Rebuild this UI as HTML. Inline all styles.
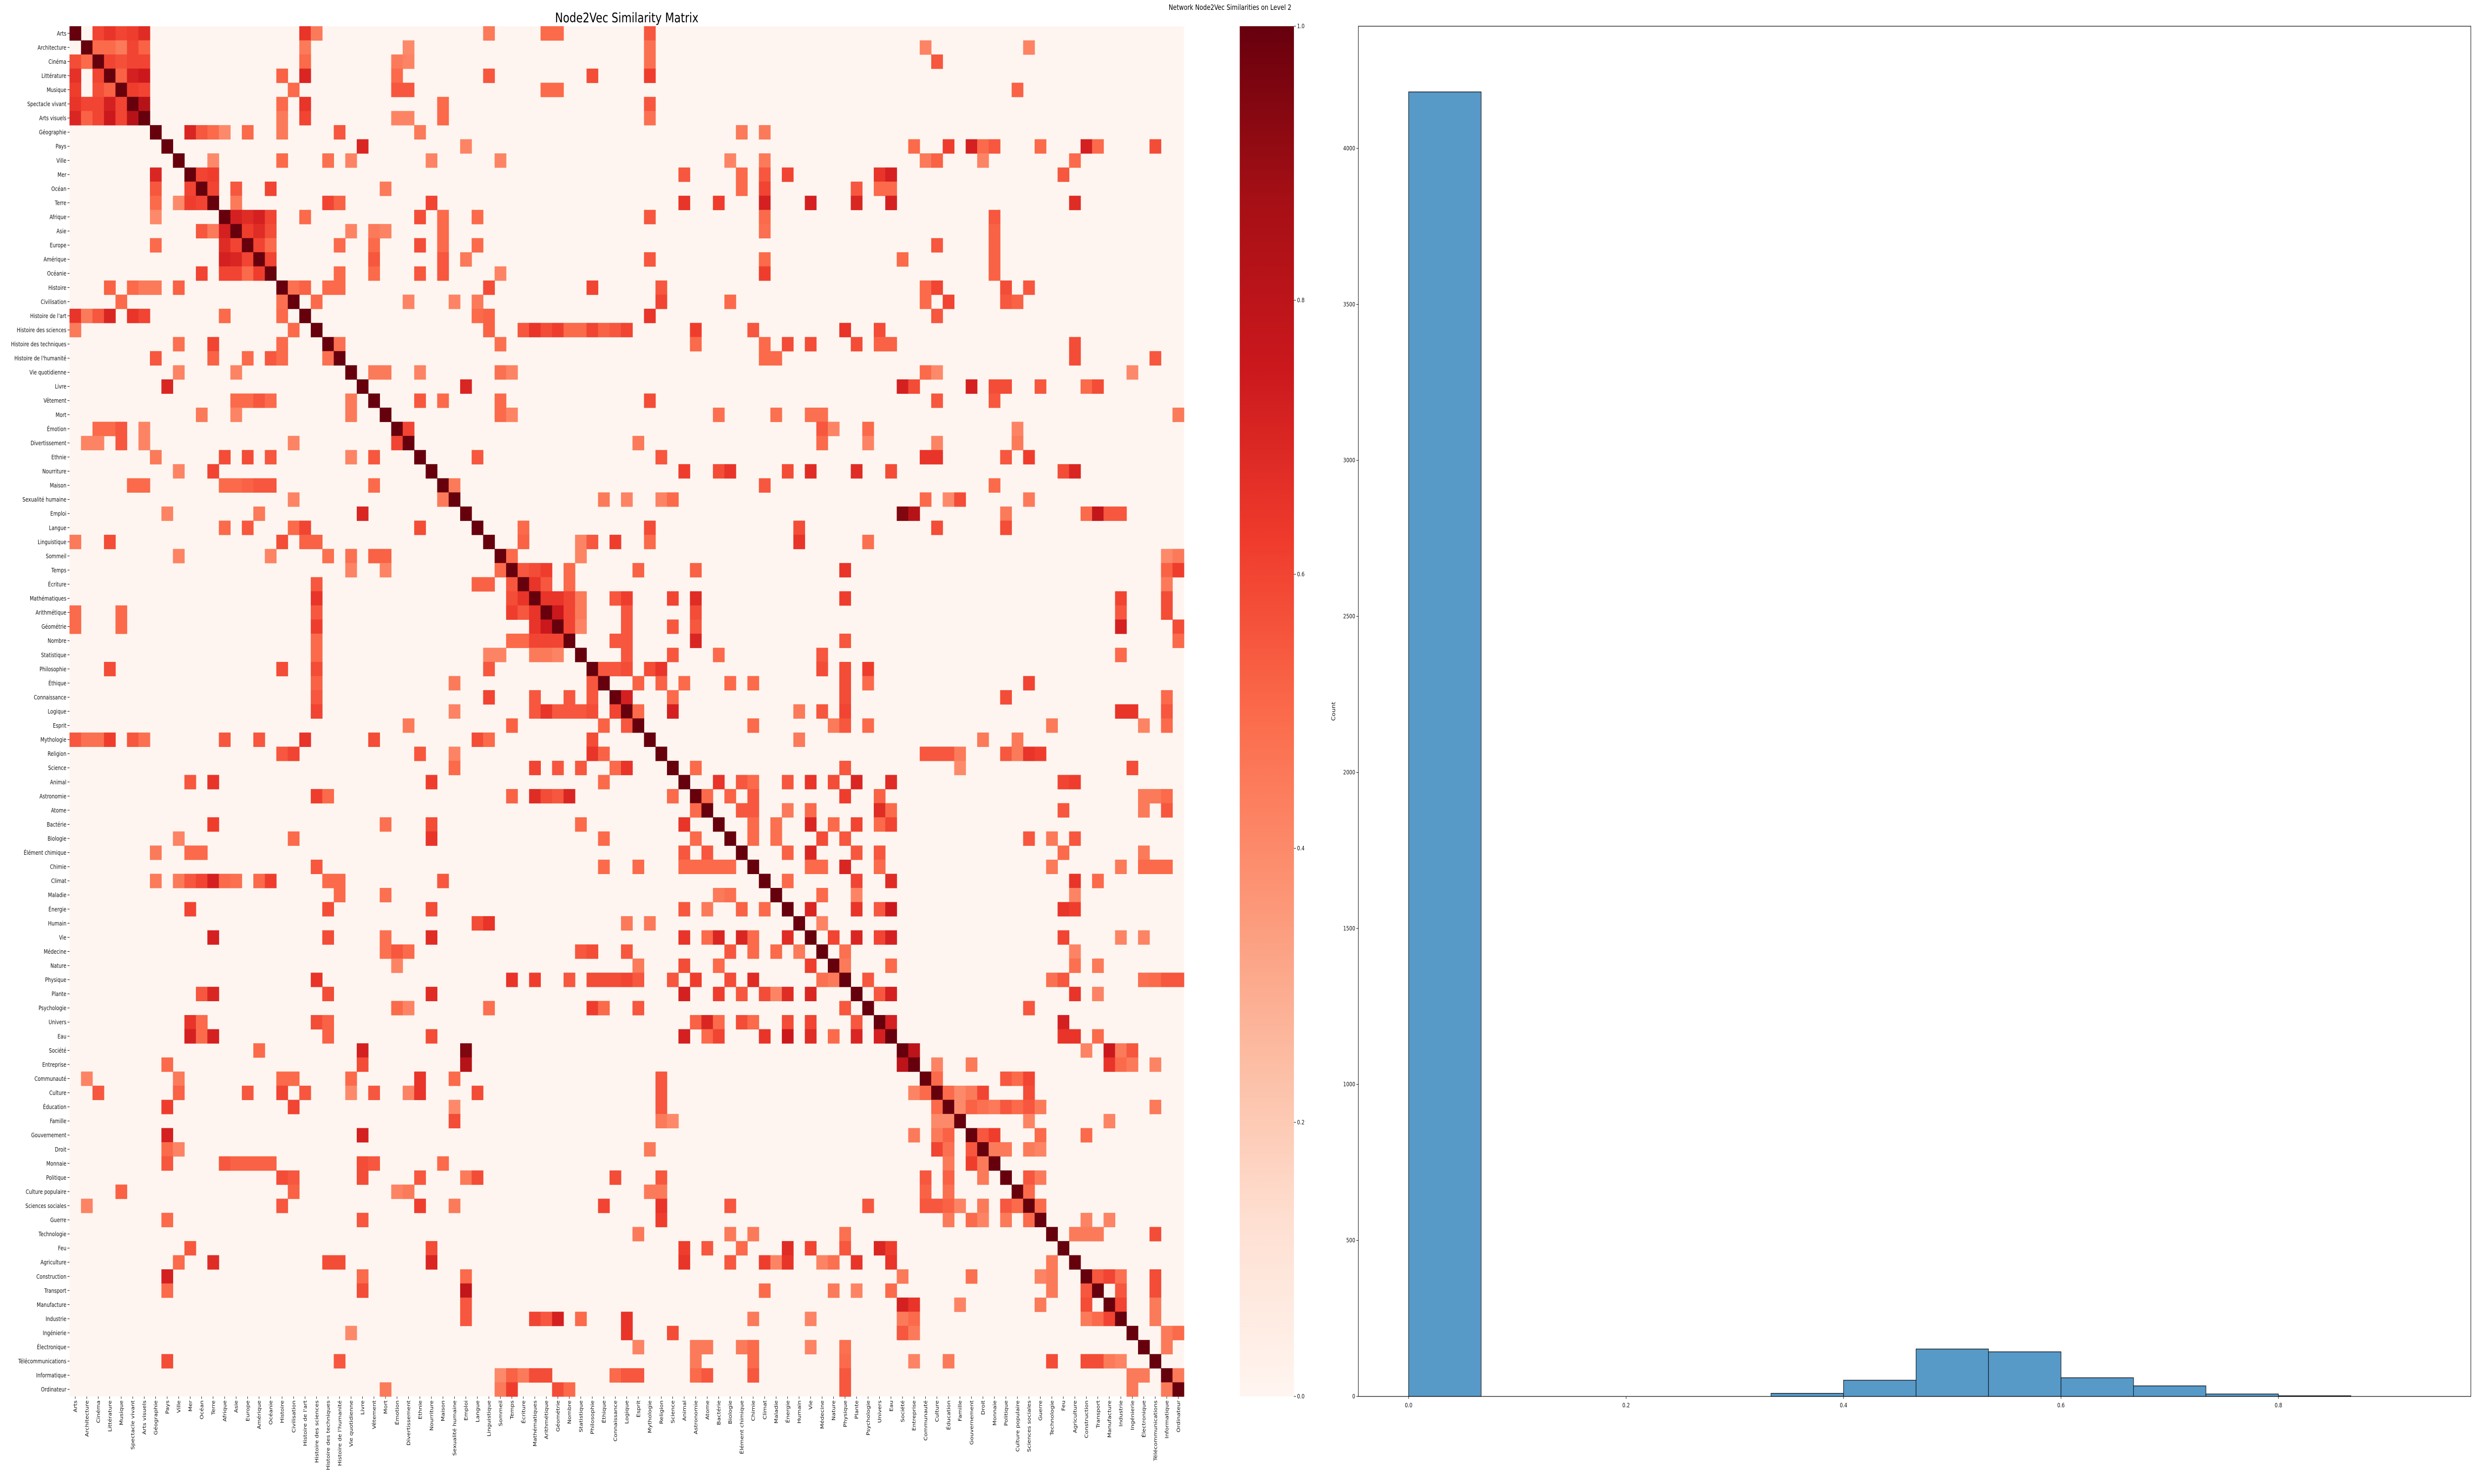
<!DOCTYPE html>
<html><head><meta charset="utf-8">
<style>
html,body{margin:0;padding:0;background:#fff;overflow:hidden;width:100%;height:100%;}
svg{display:block;width:100vw;height:100vh;font-family:"DejaVu Sans","Liberation Sans",sans-serif;}
</style></head>
<body>
<svg id="fig" xmlns="http://www.w3.org/2000/svg" viewBox="0 0 6300 3000" preserveAspectRatio="none">
<defs>
<linearGradient id="redsGrad" x1="0" y1="1" x2="0" y2="0">
<stop offset="0" stop-color="#fff5f0"/><stop offset="0.125" stop-color="#fee0d2"/><stop offset="0.25" stop-color="#fcbba1"/><stop offset="0.375" stop-color="#fc9272"/><stop offset="0.5" stop-color="#fb6a4a"/><stop offset="0.625" stop-color="#ef3b2c"/><stop offset="0.75" stop-color="#cb181d"/><stop offset="0.875" stop-color="#a50f15"/><stop offset="1" stop-color="#67000d"/>
</linearGradient>
</defs>
<rect x="0" y="0" width="6300" height="3000" fill="#fff"/>
<g id="heat"></g>
<text x="1596" y="45" font-size="27" text-anchor="middle">Node2Vec Similarity Matrix</text>
<g id="cbar"></g>
<g id="hist"></g>
<text x="2976" y="20" font-size="15">Network Node2Vec Similarities on Level 2</text>
</svg>
<script>
const labels = ["Arts","Architecture","Cinéma","Littérature","Musique","Spectacle vivant","Arts visuels","Géographie","Pays","Ville","Mer","Océan","Terre","Afrique","Asie","Europe","Amérique","Océanie","Histoire","Civilisation","Histoire de l'art","Histoire des sciences","Histoire des techniques","Histoire de l'humanité","Vie quotidienne","Livre","Vêtement","Mort","Émotion","Divertissement","Ethnie","Nourriture","Maison","Sexualité humaine","Emploi","Langue","Linguistique","Sommeil","Temps","Écriture","Mathématiques","Arithmétique","Géométrie","Nombre","Statistique","Philosophie","Éthique","Connaissance","Logique","Esprit","Mythologie","Religion","Science","Animal","Astronomie","Atome","Bactérie","Biologie","Élément chimique","Chimie","Climat","Maladie","Énergie","Humain","Vie","Médecine","Nature","Physique","Plante","Psychologie","Univers","Eau","Société","Entreprise","Communauté","Culture","Éducation","Famille","Gouvernement","Droit","Monnaie","Politique","Culture populaire","Sciences sociales","Guerre","Technologie","Feu","Agriculture","Construction","Transport","Manufacture","Industrie","Ingénierie","Électronique","Télécommunications","Informatique","Ordinateur"];
// [row, col, similarity]
const links = [
[0,2,.6],[0,3,.65],[0,4,.6],[0,5,.62],[0,6,.68],[0,20,.65],[0,21,.45],[0,41,.5],[0,42,.5],[0,50,.55],
[1,2,.5],[1,3,.5],[1,4,.45],[1,5,.6],[1,6,.52],[1,20,.45],[1,29,.4],[1,50,.48],[1,74,.42],[1,83,.42],
[2,0,.58],[2,1,.5],[2,3,.6],[2,4,.57],[2,5,.6],[2,6,.6],[2,20,.5],[2,28,.45],[2,50,.48],[2,75,.55],
[3,0,.66],[3,1,0],[3,2,.6],[3,4,.52],[3,5,.72],[3,6,.75],[3,18,.52],[3,20,.7],[3,36,.55],[3,45,.58],[3,50,.62],
[4,0,.62],[4,1,0],[4,2,.57],[4,3,.52],[4,5,.62],[4,6,.6],[4,28,.55],[4,29,.55],[4,41,.5],[4,42,.5],[4,82,.52],
[5,0,.65],[5,1,.6],[5,2,.6],[5,3,.72],[5,4,.6],[5,6,.82],[5,18,.5],[5,20,.65],[5,32,.5],[5,50,.55],
[6,0,.7],[6,1,.52],[6,2,.6],[6,3,.75],[6,4,.6],[6,5,.82],[6,18,.45],[6,20,.6],[6,32,.5],[6,50,.48],
[7,10,.7],[7,11,.55],[7,12,.5],[7,13,.4],[7,15,.5],[7,18,.45],[7,23,.55],[7,30,.45],[7,58,.45],[7,60,.45],
[8,25,.7],[8,73,.5],[8,76,.62],[8,78,.72],[8,79,.5],[8,80,.55],[8,84,.5],[8,88,.72],[8,89,.5],[8,94,.58],
[9,12,.4],[9,18,.5],[9,22,.48],[9,31,.42],[9,57,.42],[9,60,.45],[9,74,.45],[9,75,.52],[9,79,.42],[9,87,.5],
[10,7,.7],[10,11,.6],[10,12,.62],[10,53,.55],[10,58,.5],[10,60,.55],[10,62,.6],[10,70,.65],[10,71,.72],[10,86,.55],
[11,7,.55],[11,10,.6],[11,12,.6],[11,14,.55],[11,17,.6],[11,58,.5],[11,60,.6],[11,68,.55],[11,70,.5],[11,71,.5],
[12,10,.62],[12,11,.6],[12,31,.6],[12,53,.65],[12,56,.62],[12,60,.72],[12,64,.72],[12,68,.7],[12,71,.72],[12,87,.68],
[13,14,.72],[13,15,.68],[13,16,.72],[13,17,.6],[13,20,.5],[13,30,.58],[13,32,.5],[13,50,.55],[13,60,.5],[13,80,.55],
[14,11,.55],[14,12,.45],[14,13,.72],[14,15,.62],[14,16,.68],[14,17,.58],[14,26,.45],[14,32,.5],[14,60,.48],[14,80,.52],
[15,7,.5],[15,13,.68],[15,14,.6],[15,16,.6],[15,17,.5],[15,30,.58],[15,32,.5],[15,35,.5],[15,75,.55],[15,80,.52],
[16,13,.72],[16,14,.7],[16,15,.6],[16,17,.6],[16,26,.55],[16,32,.55],[16,50,.55],[16,60,.5],[16,72,.5],[16,80,.52],
[17,11,.6],[17,13,.6],[17,14,.6],[17,15,.5],[17,16,.62],[17,23,.5],[17,30,.55],[17,32,.55],[17,60,.62],[17,80,.52],
[18,3,.52],[18,9,.52],[18,20,.52],[18,22,.5],[18,45,.6],[18,51,.55],[18,74,.5],[18,75,.6],[18,81,.58],[18,83,.55],
[19,4,.5],[19,18,.48],[19,21,.5],[19,35,.45],[19,51,.6],[19,57,.5],[19,74,.5],[19,76,.6],[19,81,.55],[19,82,.52],
[20,0,.65],[20,2,.55],[20,3,.7],[20,5,.65],[20,6,.6],[20,13,.5],[20,18,.5],[20,35,.5],[20,50,.65],[20,75,.55],
[21,39,.55],[21,40,.65],[21,41,.58],[21,42,.62],[21,45,.6],[21,48,.6],[21,54,.62],[21,59,.55],[21,67,.65],[21,70,.58],
[22,12,.6],[22,18,.5],[22,54,.5],[22,60,.5],[22,62,.58],[22,64,.58],[22,68,.58],[22,70,.52],[22,71,.52],[22,87,.58],
[23,7,.55],[23,12,.52],[23,15,.5],[23,17,.55],[23,18,.5],[23,22,.48],[23,60,.5],[23,61,.5],[23,87,.58],[23,94,.55],
[24,9,.42],[24,14,.42],[24,26,.45],[24,27,.45],[24,30,.42],[24,37,.48],[24,38,.42],[24,74,.5],[24,75,.4],[24,92,.4],
[25,8,.7],[25,34,.7],[25,72,.72],[25,73,.58],[25,78,.72],[25,80,.58],[25,81,.58],[25,84,.55],[25,88,.5],[25,89,.58],
[26,14,.5],[26,15,.5],[26,16,.55],[26,17,.5],[26,30,.55],[26,32,.5],[26,37,.5],[26,50,.58],[26,75,.55],[26,80,.55],
[27,11,.45],[27,14,.42],[27,24,.45],[27,37,.5],[27,38,.42],[27,56,.48],[27,61,.48],[27,64,.48],[27,65,.48],[27,96,.45],
[28,2,.5],[28,3,.5],[28,4,.55],[28,6,.42],[28,29,.6],[28,65,.55],[28,66,.42],[28,69,.5],[28,82,.42],
[29,1,.42],[29,2,.42],[29,4,.55],[29,6,.42],[29,19,.42],[29,28,.6],[29,49,.45],[29,65,.5],[29,69,.42],[29,75,.42],[29,82,.45],
[30,13,.58],[30,15,.58],[30,17,.55],[30,26,.55],[30,35,.55],[30,51,.55],[30,74,.65],[30,75,.65],[30,81,.55],[30,83,.62],
[31,12,.6],[31,53,.62],[31,56,.58],[31,57,.65],[31,62,.58],[31,64,.68],[31,68,.68],[31,71,.58],[31,86,.58],[31,87,.7],
[32,5,.5],[32,6,.5],[32,13,.5],[32,14,.5],[32,15,.52],[32,16,.55],[32,17,.55],[32,26,.5],[32,60,.55],[32,80,.5],
[33,19,.42],[33,32,.45],[33,46,.45],[33,48,.42],[33,51,.42],[33,52,.5],[33,74,.5],[33,76,.4],[33,77,.58],[33,83,.45],
[34,8,.42],[34,16,.45],[34,25,.7],[34,72,.95],[34,73,.82],[34,81,.45],[34,88,.5],[34,89,.78],[34,90,.55],[34,91,.55],
[35,13,.5],[35,15,.55],[35,19,.5],[35,20,.6],[35,30,.58],[35,39,.5],[35,50,.58],[35,63,.58],[35,75,.58],[35,81,.58],
[36,0,.45],[36,3,.58],[36,18,.58],[36,20,.52],[36,21,.52],[36,45,.55],[36,47,.62],[36,50,.5],[36,63,.65],[36,69,.48],
[37,9,.42],[37,17,.42],[37,22,.48],[37,24,.48],[37,26,.52],[37,27,.52],[37,44,.42],[37,95,.4],[37,96,.45],
[38,37,.5],[38,39,.55],[38,40,.58],[38,41,.62],[38,43,.5],[38,49,.52],[38,54,.52],[38,67,.65],[38,95,.52],[38,96,.62],
[39,21,.55],[39,35,.52],[39,36,.52],[39,38,.55],[39,40,.65],[39,41,.55],[39,43,.5],[39,95,.45],
[40,21,.65],[40,38,.58],[40,39,.65],[40,41,.65],[40,42,.65],[40,43,.6],[40,48,.62],[40,52,.6],[40,54,.68],[40,67,.62],[40,91,.6],[40,95,.58],
[41,21,.55],[41,39,.55],[41,40,.65],[41,42,.75],[41,43,.6],[41,48,.55],[41,54,.58],[41,91,.55],[41,95,.58],
[42,4,.5],[42,21,.62],[42,40,.65],[42,41,.75],[42,43,.6],[42,48,.55],[42,52,.55],[42,54,.55],[42,91,.72],[42,96,.58],
[43,21,.5],[43,38,.5],[43,40,.6],[43,41,.6],[43,42,.6],[43,47,.55],[43,48,.55],[43,54,.7],[43,67,.55],[43,96,.5],
[44,21,.5],[44,36,.42],[44,40,.45],[44,41,.45],[44,42,.42],[44,48,.55],[44,52,.55],[44,56,.5],[44,65,.55],[44,91,.5],
[45,3,.58],[45,18,.58],[45,21,.58],[45,48,.58],[45,50,.58],[45,51,.65],[45,65,.58],[45,67,.58],[45,69,.62],
[46,21,.52],[46,45,.55],[46,49,.52],[46,51,.52],[46,53,.5],[46,57,.5],[46,59,.5],[46,67,.58],[46,69,.5],[46,83,.6],
[47,21,.55],[47,36,.6],[47,40,.55],[47,43,.55],[47,45,.55],[47,48,.72],[47,52,.5],[47,67,.58],[47,81,.58],[47,95,.5],
[48,40,.55],[48,41,.65],[48,42,.55],[48,47,.6],[48,49,.5],[48,52,.72],[48,91,.65],
[49,48,.55],[49,59,.5],[49,66,.45],[49,67,.55],[49,69,.5],[49,95,.5],
[51,74,.55],[51,76,.55],[51,81,.55],[51,83,.65],[51,84,.62],
[52,48,.65],[52,54,.5],[52,67,.55],[52,92,.58],
[53,56,.65],[53,62,.55],[53,64,.65],[53,66,.58],[53,68,.7],[53,71,.68],[53,86,.6],[53,87,.62],
[54,57,.52],[54,59,.55],[54,67,.62],[54,70,.52],
[55,54,.5],[55,58,.55],[55,59,.55],[55,62,.45],[55,64,.5],[55,70,.68],[55,71,.5],[55,86,.55],[55,95,.55],
[56,53,.65],[56,59,.5],[56,61,.48],[56,64,.7],[56,68,.6],[56,70,.5],[56,71,.6],
[57,54,.5],[57,59,.5],[57,61,.48],[57,65,.58],[57,67,.55],[57,83,.55],[57,87,.55],
[58,53,.55],[58,55,.55],[58,62,.52],[58,64,.7],[58,68,.55],[58,70,.55],[58,86,.5],
[59,53,.5],[59,54,.5],[59,55,.5],[59,64,.5],[59,67,.7],[59,70,.5],[59,95,.5],
[60,62,.5],[60,68,.6],[60,71,.68],[60,87,.65],
[61,56,.45],[61,57,.48],[61,65,.5],[61,68,.42],[61,87,.42],
[62,53,.55],[62,64,.7],[62,68,.65],[62,70,.55],[62,71,.75],[62,86,.65],[62,87,.62],
[63,48,.45],[63,50,.45],[63,65,.42],
[64,53,.65],[64,56,.7],[64,58,.7],[64,62,.68],[64,66,.6],[64,68,.7],[64,70,.6],[64,71,.72],
[65,48,.55],[65,57,.55],[65,59,.5],[65,61,.5],[65,63,.45],[65,67,.48],[65,87,.42],
[66,53,.58],[66,56,.5],[66,64,.62],[66,67,.45],[66,71,.5],[66,87,.48],
[67,48,.6],[67,54,.62],[67,57,.58],[67,59,.68],[67,69,.55],
[68,53,.72],[68,56,.62],[68,60,.58],[68,62,.68],[68,64,.7],[68,71,.72],[68,87,.65],
[69,49,.55],[69,67,.55],[69,83,.55],
[70,55,.7],[70,58,.58],[70,62,.58],[70,64,.6],[70,68,.55],[70,71,.72],[70,86,.72],
[71,53,.72],[71,60,.65],[71,62,.75],[71,64,.68],[71,68,.7],[71,70,.72],[71,86,.65],[71,87,.65],
[72,73,.8],[72,88,.42],[72,90,.75],[72,91,.45],[72,92,.55],
[73,72,.8],[73,75,.42],[73,78,.45],[73,90,.65],[73,91,.5],[73,92,.45],[73,94,.42],
[74,51,.55],[74,75,.5],[74,81,.55],[74,82,.5],[74,83,.6],
[75,51,.55],[75,79,.6],[75,83,.58],
[76,51,.55],[76,75,.5],[76,78,.52],[76,80,.45],[76,81,.55],[76,82,.5],[76,83,.55],
[77,51,.45],[77,52,.4],[77,75,.4],[77,76,.4],[77,83,.42],[77,90,.42],
[78,73,.45],[78,75,.45],[78,76,.52],[78,79,.55],[78,80,.62],[78,84,.5],[78,88,.5],
[79,50,.45],[79,75,.6],[79,76,.48],[79,78,.55],[79,80,.45],[79,81,.45],[79,83,.45],
[80,78,.62],
[81,51,.55],[81,74,.55],[81,76,.52],[81,83,.55],
[82,50,.45],[82,51,.45],[82,74,.52],[82,76,.48],[82,83,.5],
[83,51,.65],[83,57,.55],[83,69,.55],[83,74,.55],[83,75,.55],[83,76,.52],[83,81,.55],
[84,51,.62],[84,76,.45],[84,78,.5],[84,79,.42],[84,81,.45],[84,83,.5],[84,88,.42],[84,90,.42],
[85,49,.45],[85,57,.45],[85,59,.45],[85,67,.48],[85,87,.45],[85,88,.45],[85,94,.58],
[86,53,.62],[86,55,.55],[86,62,.68],[86,64,.6],[86,67,.55],[86,70,.7],[86,71,.62],
[87,53,.65],[87,57,.55],[87,60,.62],[87,62,.65],[87,68,.65],[87,71,.65],
[88,72,.45],[88,78,.48],[88,85,.45],[88,89,.55],[88,90,.6],[88,91,.48],[88,94,.58],
[89,60,.5],[89,66,.45],[89,68,.42],[89,71,.5],[89,85,.45],[89,88,.55],[89,91,.55],[89,94,.58],
[90,72,.72],[90,73,.65],[90,84,.45],[90,88,.58],[90,91,.6],[90,94,.45],
[91,59,.45],[91,64,.42],[91,72,.45],[91,73,.5],[91,88,.45],[91,89,.5],[91,90,.6],[91,94,.45],
[92,48,.65],[92,52,.58],[92,72,.55],[92,95,.45],[92,96,.5],
[93,49,.42],[93,54,.45],[93,55,.45],[93,58,.45],[93,59,.5],[93,64,.42],[93,67,.48],[93,95,.45],
[94,54,.45],[94,59,.5],[94,67,.5],[94,76,.45],[94,85,.58],[94,88,.58],[94,89,.58],[94,91,.42],
[95,48,.55],[95,49,.55],[95,54,.5],[95,55,.55],[95,59,.55],[95,67,.55],
[96,67,.55],[96,92,.45],[96,95,.45]
];
// histogram
const binEdges = [0,0.0667,0.1333,0.2,0.2667,0.3333,0.4,0.4667,0.5333,0.6,0.6667,0.7333,0.8,0.8667];
const binCounts = [4181,0,0,0,0,10,52,152,143,60,34,8,2];
const histYTicks = [0,500,1000,1500,2000,2500,3000,3500,4000];
const histXTicks = [0.0,0.2,0.4,0.6,0.8];
const cbarTicks = [0.0,0.2,0.4,0.6,0.8,1.0];

const NS="http://www.w3.org/2000/svg";
function mk(tag, attrs, parent){const e=document.createElementNS(NS,tag);for(const k in attrs)e.setAttribute(k,attrs[k]);parent.appendChild(e);return e;}
const stops=[[255,245,240],[254,224,210],[252,187,161],[252,146,114],[251,106,74],[239,59,44],[203,24,29],[165,15,21],[103,0,13]];
function reds(v){v=Math.max(0,Math.min(1,v));const t=v*8;const i=Math.min(7,Math.floor(t));const f=t-i;const a=stops[i],b=stops[i+1];return "rgb("+a.map((c,k)=>Math.round(c+(b[k]-c)*f)).join(",")+")";}

// heatmap
const N=labels.length, HL=177, HT=53, HR=3015, HB=2823;
const cw=(HR-HL)/N, ch=(HB-HT)/N;
const xC=i=>HL+i*cw, yR=i=>HT+i*ch;
const M=[], setF=[];
for(let i=0;i<N;i++){M.push(new Array(N).fill(0));setF.push(new Array(N).fill(false));M[i][i]=1;setF[i][i]=true;}
links.forEach(([i,j,v])=>{M[i][j]=v;setF[i][j]=true;});
links.forEach(([i,j,v])=>{if(!setF[j][i]){M[j][i]=v;}});
const heat=document.getElementById('heat');
const bg=mk('rect',{x:HL,y:HT,width:HR-HL,height:HB-HT,fill:reds(0)},heat);


for(let i=0;i<N;i++)for(let j=0;j<N;j++){
  if(M[i][j]<=0)continue;
  const r=mk('rect',{x:xC(j).toFixed(2),y:yR(i).toFixed(2),width:(cw+0.6).toFixed(2),height:(ch+0.6).toFixed(2),fill:reds(M[i][j])},heat);
  
  
}
labels.forEach((lb,i)=>{
  const cy=yR(i)+ch/2;
  mk('line',{x1:HL-5,x2:HL,y1:cy,y2:cy,stroke:'#000','stroke-width':1},heat);
  const t=mk('text',{x:HL-8,y:cy+4.5,'font-size':12,'text-anchor':'end',fill:'#111'},heat);
  t.textContent=lb;
  
  
  const cx=xC(i)+cw/2;
  mk('line',{x1:cx,x2:cx,y1:HB,y2:HB+5,stroke:'#000','stroke-width':1},heat);
  const tx=mk('text',{x:0,y:0,'font-size':12,'text-anchor':'end',fill:'#111',transform:`translate(${(cx+4.5).toFixed(1)},${HB+8}) rotate(-90)`},heat);
  tx.textContent=lb;
  
  
});

// colorbar
const cb=document.getElementById('cbar');
const CBL=3157, CBR=3295, CBT=53, CBB=2823;
const cbr=mk('rect',{x:CBL,y:CBT,width:CBR-CBL,height:CBB-CBT,fill:'url(#redsGrad)'},cb);


cbarTicks.forEach(v=>{
  const y=CBB-(CBB-CBT)*v;
  mk('line',{x1:CBR,x2:CBR+5,y1:y,y2:y,stroke:'#000'},cb);
  const t=mk('text',{x:CBR+8,y:y+4,'font-size':12,fill:'#111'},cb);
  t.textContent=v.toFixed(1);
  
  
});

// histogram
const hg=document.getElementById('hist');
const AL=3459, AR=6292, AT=53, AB=2823;
const x0=3587, pxPerUnit=(5802-3587)/0.8;
const sx=v=>x0+v*pxPerUnit;
const sy=c=>AB-c*((AB-300)/4000);
const frame=mk('rect',{x:AL,y:AT,width:AR-AL,height:AB-AT,fill:'none',stroke:'#000','stroke-width':1.2},hg);


binCounts.forEach((c,k)=>{
  if(c<=0)return;
  const xa=sx(binEdges[k]), xb=sx(binEdges[k+1]);
  const b=mk('rect',{x:xa.toFixed(1),y:sy(c).toFixed(1),width:(xb-xa).toFixed(1),height:(AB-sy(c)).toFixed(1),fill:'#5799c7',stroke:'#000','stroke-width':1.2},hg);
  
  
});
histYTicks.forEach(v=>{
  const y=sy(v);
  mk('line',{x1:AL-5,x2:AL,y1:y,y2:y,stroke:'#000'},hg);
  const t=mk('text',{x:AL-8,y:y+4,'font-size':12,'text-anchor':'end',fill:'#111'},hg);
  t.textContent=String(v);
  
  
});
histXTicks.forEach(v=>{
  const x=sx(v);
  mk('line',{x1:x,x2:x,y1:AB,y2:AB+5,stroke:'#000'},hg);
  const t=mk('text',{x:x,y:AB+22,'font-size':12,'text-anchor':'middle',fill:'#111'},hg);
  t.textContent=v.toFixed(1);
  
  
});
const yl=mk('text',{x:0,y:0,'font-size':13,'text-anchor':'middle',fill:'#111',transform:`translate(3400,1438) rotate(-90)`},hg);
yl.textContent='Count';


</script>
</body></html>
